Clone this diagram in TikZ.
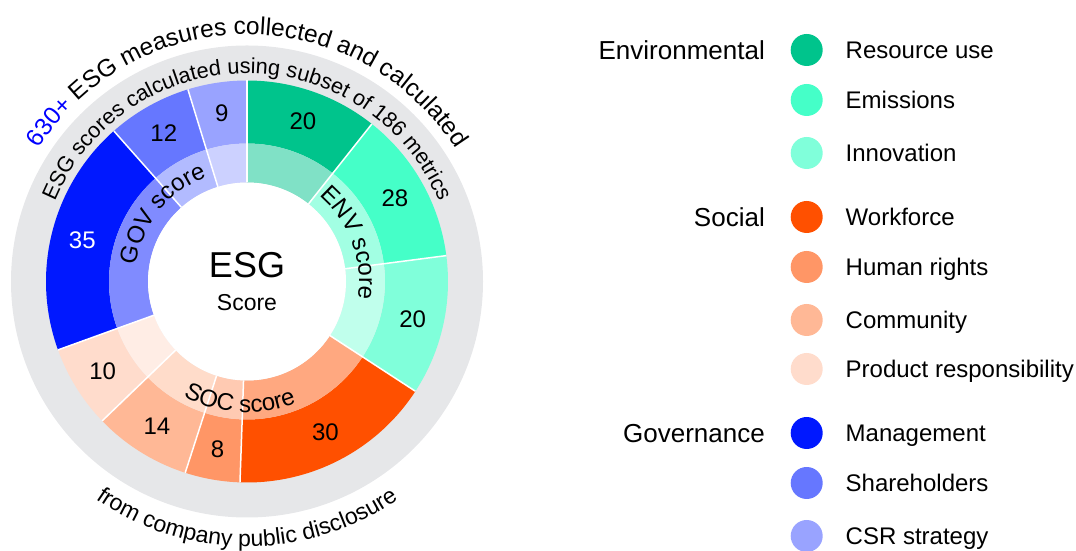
\documentclass[tikz,border=0pt]{standalone}
\usepackage{fontspec}
\setmainfont{Liberation Sans}
\usetikzlibrary{decorations.text}

\definecolor{band}{HTML}{E6E7E9}
\definecolor{resuse}{HTML}{00C48C}
\definecolor{emis}{HTML}{45FFC8}
\definecolor{innov}{HTML}{80FFDA}
\definecolor{workf}{HTML}{FF5000}
\definecolor{humr}{HTML}{FF9666}
\definecolor{commu}{HTML}{FFB896}
\definecolor{prodr}{HTML}{FFDCCC}
\definecolor{manag}{HTML}{0018FF}
\definecolor{shareh}{HTML}{6677FF}
\definecolor{csrs}{HTML}{99A3FF}

\tikzset{
  segsep/.style={draw=white, line width=1.5pt},
  num/.style={font=\fontsize{24}{28}\selectfont, text height=17pt, text depth=0pt, inner sep=0pt},
  dot/.style={circle, minimum size=32pt, inner sep=0pt},
  item/.style={font=\fontsize{24}{28}\selectfont, text height=17pt, text depth=0pt, inner sep=0pt, right},
  group/.style={font=\fontsize{26}{30}\selectfont, text height=18.6pt, text depth=0pt, inner sep=0pt, left},
}
\newcommand{\ringpart}[5]{\fill[#5] (#1:#3) arc[start angle=#1, end angle=#2, radius=#3] -- (#2:#4) arc[start angle=#2, end angle=#1, radius=#4] -- cycle;}
\newcommand{\arctxt}{\fontsize{24}{28}\selectfont}
\newcommand{\toptxt}{\fontsize{24.5}{28}\selectfont}
\newcommand{\bandtxt}{\fontsize{21.7}{25}\selectfont}
\newcommand{\lowtxt}{\fontsize{23}{27}\selectfont}

\begin{document}
\begin{tikzpicture}[x=1pt, y=1pt]
\useasboundingbox (0,0) rectangle (1076,551);

\begin{scope}[shift={(247,269.5)}]
\fill[band] (0,0) circle[radius=236];
% metrics ring
\ringpart{90}{51.6}{201}{138}{resuse}
\ringpart{51.6}{7.4}{201}{138}{emis}
\ringpart{7.4}{-33.1}{201}{138}{innov}
\ringpart{-33.1}{-92}{201}{138}{workf}
\ringpart{-92}{-107.9}{201}{138}{humr}
\ringpart{-107.9}{-136.1}{201}{138}{commu}
\ringpart{-136.1}{-160.1}{201}{138}{prodr}
\ringpart{-160.1}{-228.5}{201}{138}{manag}
\ringpart{-228.5}{-252.9}{201}{138}{shareh}
\ringpart{-252.9}{-270}{201}{138}{csrs}
% score ring
\ringpart{90}{51.6}{138}{99}{resuse!50}
\ringpart{51.6}{7.4}{138}{99}{emis!50}
\ringpart{7.4}{-33.1}{138}{99}{innov!50}
\ringpart{-33.1}{-92}{138}{99}{workf!50}
\ringpart{-92}{-107.9}{138}{99}{humr!50}
\ringpart{-107.9}{-136.1}{138}{99}{commu!50}
\ringpart{-136.1}{-160.1}{138}{99}{prodr!50}
\ringpart{-160.1}{-228.5}{138}{99}{manag!50}
\ringpart{-228.5}{-252.9}{138}{99}{shareh!50}
\ringpart{-252.9}{-270}{138}{99}{csrs!50}
\fill[white] (0,0) circle[radius=99];
\draw[segsep] (90:99) -- (90:201);
\draw[segsep] (51.6:99) -- (51.6:201);
\draw[segsep] (7.4:99) -- (7.4:201);
\draw[segsep] (-33.1:99) -- (-33.1:201);
\draw[segsep] (-92:99) -- (-92:201);
\draw[segsep] (-107.9:99) -- (-107.9:201);
\draw[segsep] (-136.1:99) -- (-136.1:201);
\draw[segsep] (-160.1:99) -- (-160.1:201);
\draw[segsep] (-228.5:99) -- (-228.5:201);
\draw[segsep] (-252.9:99) -- (-252.9:201);

\node[num] (nres) at (70.8:170) {20};
\node[num] (nemis) at (29.5:170) {28};
\node[num] (ninnov) at (-12.85:170) {20};
\node[num] (nwork) at (-62.55:170) {30};
\node[num] (nhum) at (-99.95:170) {8};
\node[num] (ncomm) at (-122:170) {14};
\node[num] (nprod) at (-148.1:170) {10};
\node[num, text=white] (nman) at (-194.3:170) {35};
\node[num] (nshare) at (-240.7:170) {12};
\node[num] (ncsr) at (-261.45:170) {9};

\node[font=\fontsize{36}{40}\selectfont, text height=25.8pt, text depth=0pt, inner sep=0pt] (esg) at (0,17.3) {ESG};
\node[font=\fontsize{23}{27}\selectfont, text height=16.5pt, text depth=0pt, inner sep=0pt] (score) at (0,-21) {Score};

\path[decorate, decoration={text along path, text align=center,
  text={|\toptxt\color{blue}|630+ |\toptxt\color{black}|ESG measures collected and calculated}}]
  (180:247) arc[start angle=180, end angle=0, radius=247];
\path[decorate, decoration={text along path, text align=center,
  text={|\bandtxt|ESG scores calculated using subset of 186 metrics}}]
  (180:208) arc[start angle=180, end angle=0, radius=208];
\path[decorate, decoration={text along path, text align=center,
  text={|\lowtxt|from company public disclosure}}]
  (180:265) arc[start angle=180, end angle=360, radius=265];
\path[decorate, decoration={text along path, text align=center,
  text={|\arctxt|ENV score}}]
  (80.6:112) arc[start angle=80.6, end angle=-39.4, radius=112];
\path[decorate, decoration={text along path, text align=center,
  text={|\arctxt|GOV score}}]
  (201.3:112) arc[start angle=201.3, end angle=81.3, radius=112];
\path[decorate, decoration={text along path, text align=center,
  text={|\arctxt|SOC score}}]
  (-153.5:131) arc[start angle=-153.5, end angle=-33.5, radius=131];
\end{scope}

% legend
\node[group] (genv) at (765,501) {Environmental};
\node[group] (gsoc) at (765,334) {Social};
\node[group] (ggov) at (765,118) {Governance};

\node[dot, fill=resuse] (dres) at (806.7,501) {};
\node[dot, fill=emis] (demis) at (806.7,451) {};
\node[dot, fill=innov] (dinnov) at (806.7,398) {};
\node[dot, fill=workf] (dwork) at (806.7,334) {};
\node[dot, fill=humr] (dhum) at (806.7,284) {};
\node[dot, fill=commu] (dcomm) at (806.7,231) {};
\node[dot, fill=prodr] (dprod) at (806.7,182) {};
\node[dot, fill=manag] (dman) at (806.7,118) {};
\node[dot, fill=shareh] (dshare) at (806.7,68) {};
\node[dot, fill=csrs] (dcsr) at (806.7,15) {};

\node[item] (tres) at (845.5,501) {Resource use};
\node[item] (temis) at (845.5,451) {Emissions};
\node[item] (tinnov) at (845.5,398) {Innovation};
\node[item] (twork) at (845.5,334) {Workforce};
\node[item] (thum) at (845.5,284) {Human rights};
\node[item] (tcomm) at (845.5,231) {Community};
\node[item] (tprod) at (845.5,182) {Product responsibility};
\node[item] (tman) at (845.5,118) {Management};
\node[item] (tshare) at (845.5,68) {Shareholders};
\node[item] (tcsr) at (845.5,15) {CSR strategy};

\end{tikzpicture}
\end{document}
